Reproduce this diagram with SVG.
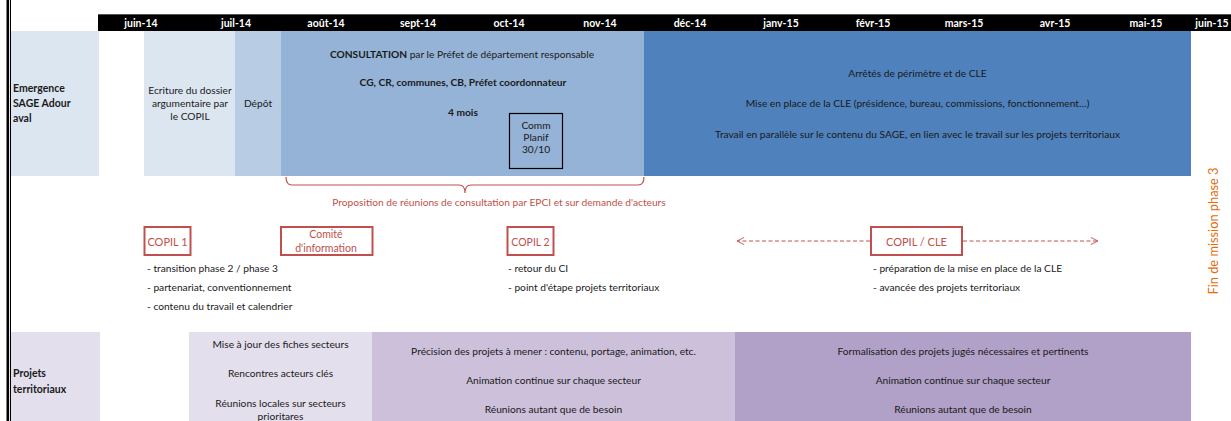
<svg xmlns="http://www.w3.org/2000/svg" width="1231" height="421" viewBox="0 0 1231 421">
<style>
text{font-family:Lato,"Liberation Sans",sans-serif;fill:#1a1a1a}
.m{font-size:10.5px;font-weight:bold;fill:#fff;text-anchor:middle}
.t{font-size:10.2px;text-anchor:middle}
.b{font-weight:bold}
.lbl{font-size:10.5px;font-weight:bold}
.bul{font-size:10.2px}
.red{fill:#c0504d}
.box{fill:#fff;stroke:#c0504d;stroke-width:2}
.con{stroke:#c0504d;fill:none}
</style>
<defs>
<marker id="chev" viewBox="0 0 10 10" refX="9" refY="5" markerWidth="9" markerHeight="9" orient="auto-start-reverse" markerUnits="userSpaceOnUse">
<path d="M1,1 L9,5 L1,9" fill="none" stroke="#c0504d" stroke-width="1"/>
</marker>
</defs>
<rect width="1231" height="421" fill="#fff"/>
<!-- left border -->
<rect x="6.5" y="0" width="2.6" height="421" fill="#000"/>
<rect x="10" y="0" width="1" height="421" fill="#000"/>
<!-- header -->
<g id="header">
<rect x="98" y="14" width="1133" height="17" fill="#000"/>
<line x1="98" y1="14.5" x2="1231" y2="14.5" stroke="#555" stroke-width="1"/>
<g stroke="#000" stroke-width="1">
<line x1="189.1" y1="31" x2="189.1" y2="33"/><line x1="280.2" y1="31" x2="280.2" y2="33"/><line x1="371.3" y1="31" x2="371.3" y2="33"/><line x1="462.4" y1="31" x2="462.4" y2="33"/><line x1="553.5" y1="31" x2="553.5" y2="33"/><line x1="735.7" y1="31" x2="735.7" y2="33"/><line x1="826.8" y1="31" x2="826.8" y2="33"/><line x1="917.9" y1="31" x2="917.9" y2="33"/><line x1="1009" y1="31" x2="1009" y2="33"/><line x1="1100.1" y1="31" x2="1100.1" y2="33"/>
</g>
<text class="m" x="141" y="26.5">juin-14</text>
<text class="m" x="236" y="26.5">juil-14</text>
<text class="m" x="326" y="26.5">août-14</text>
<text class="m" x="418" y="26.5">sept-14</text>
<text class="m" x="509" y="26.5">oct-14</text>
<text class="m" x="600" y="26.5">nov-14</text>
<text class="m" x="690" y="26.5">déc-14</text>
<text class="m" x="781" y="26.5">janv-15</text>
<text class="m" x="873" y="26.5">févr-15</text>
<text class="m" x="964" y="26.5">mars-15</text>
<text class="m" x="1055" y="26.5">avr-15</text>
<text class="m" x="1146" y="26.5">mai-15</text>
<text class="m" x="1212" y="26.5">juin-15</text>
</g>
<!-- row 1 -->
<g id="emergence-label">
<rect x="11" y="31" width="88" height="145" fill="#dce6f1"/>
<text class="lbl" x="13" y="92">Emergence</text>
<text class="lbl" x="13" y="107">SAGE Adour</text>
<text class="lbl" x="13" y="122">aval</text>
</g>
<g id="ecriture">
<rect x="144" y="31" width="91" height="145" fill="#dce6f1"/>
<text class="t" x="190" y="94">Ecriture du dossier</text>
<text class="t" x="190" y="107">argumentaire par</text>
<text class="t" x="190" y="120">le COPIL</text>
</g>
<g id="depot">
<rect x="235" y="31" width="46" height="145" fill="#b8cce4"/>
<text class="t" x="258" y="107">Dépôt</text>
</g>
<g id="consultation">
<rect x="281" y="31" width="363" height="145" fill="#95b3d7"/>
<text class="t" x="462" y="57.5"><tspan class="b">CONSULTATION</tspan> par le Préfet de département responsable</text>
<text class="t b" x="463" y="85.5">CG, CR, communes, CB, Préfet coordonnateur</text>
<text class="t b" x="463" y="115.5">4 mois</text>
</g>
<g id="comm-planif">
<rect x="509.5" y="113.5" width="53" height="55" fill="none" stroke="#000" stroke-width="1.2"/>
<text class="t" x="536" y="128.5">Comm</text>
<text class="t" x="536" y="140.5">Planif</text>
<text class="t" x="536" y="152.5">30/10</text>
</g>
<g id="cle">
<rect x="644" y="31" width="547" height="145" fill="#4f81bd"/>
<text class="t" x="917.5" y="76.5">Arrêtés de périmètre et de CLE</text>
<text class="t" x="917.5" y="106.5">Mise en place de la CLE (présidence, bureau, commissions, fonctionnement…)</text>
<text class="t" x="917.5" y="137.5">Travail en parallèle sur le contenu du SAGE, en lien avec le travail sur les projets territoriaux</text>
</g>
<!-- row 2 -->
<g id="proposition">
<text class="t red" x="499" y="205.5">Proposition de réunions de consultation par EPCI et sur demande d'acteurs</text>
</g>
<g id="copil1">
<rect class="box" x="144.5" y="227" width="46" height="28"/>
<text class="red" x="167.5" y="245.5" font-size="11" text-anchor="middle">COPIL 1</text>
<text class="bul" x="147" y="271.5">- transition phase 2 / phase 3</text>
<text class="bul" x="147" y="290.5">- partenariat, conventionnement</text>
<text class="bul" x="147" y="309.5">- contenu du travail et calendrier</text>
</g>
<g id="comite">
<rect class="box" x="281" y="227" width="91.5" height="28"/>
<text class="red" x="326" y="238" font-size="10.5" text-anchor="middle">Comité</text>
<text class="red" x="326" y="251.5" font-size="10.5" text-anchor="middle">d'information</text>
</g>
<g id="copil2">
<rect class="box" x="507.5" y="227" width="46" height="28"/>
<text class="red" x="530.5" y="245.5" font-size="10.5" text-anchor="middle">COPIL 2</text>
<text class="bul" x="508" y="271.5">- retour du CI</text>
<text class="bul" x="508" y="290.5">- point d'étape projets territoriaux</text>
</g>
<g id="copil-cle">
<rect class="box" x="871" y="227" width="91" height="28"/>
<text class="red" x="916.5" y="245.5" font-size="11" text-anchor="middle">COPIL / CLE</text>
<text class="bul" x="873" y="271.5">- préparation de la mise en place de la CLE</text>
<text class="bul" x="873" y="290.5">- avancée des projets territoriaux</text>
</g>
<g id="fin-mission">
<text x="1218" y="231" font-size="12.8" style="fill:#e46c0a" text-anchor="middle" transform="rotate(-90 1218 231)">Fin de mission phase 3</text>
</g>
<!-- row 3 -->
<g id="projets-label">
<rect x="11" y="332" width="89" height="89" fill="#e4dfec"/>
<text class="lbl" x="13" y="377">Projets</text>
<text class="lbl" x="13" y="393">territoriaux</text>
</g>
<g id="mise-a-jour">
<rect x="189" y="332" width="183" height="89" fill="#e4dfec"/>
<text class="t" x="280.5" y="347.5">Mise à jour des fiches secteurs</text>
<text class="t" x="280.5" y="376.5">Rencontres acteurs clés</text>
<text class="t" x="280.5" y="406.5">Réunions locales sur secteurs</text>
<text class="t" x="280.5" y="420">prioritares</text>
</g>
<g id="precision">
<rect x="372" y="332" width="363" height="89" fill="#ccc0da"/>
<text class="t" x="553.5" y="354.5">Précision des projets à mener : contenu, portage, animation, etc.</text>
<text class="t" x="553.5" y="383.5">Animation continue sur chaque secteur</text>
<text class="t" x="553.5" y="412.5">Réunions autant que de besoin</text>
</g>
<g id="formalisation">
<rect x="735" y="332" width="456" height="89" fill="#b1a0c7"/>
<text class="t" x="963" y="354.5">Formalisation des projets jugés nécessaires et pertinents</text>
<text class="t" x="963" y="383.5">Animation continue sur chaque secteur</text>
<text class="t" x="963" y="412.5">Réunions autant que de besoin</text>
</g>
<!-- connectors -->
<g id="connectors">
<path class="con" stroke-width="1.2" d="M286,177 Q286,185 292,185 L459,185 Q465,185 465,193 Q465,185 471,185 L638,185 Q644,185 644,177"/>
<line class="con" x1="870" y1="241" x2="737" y2="241" stroke-width="1" stroke-dasharray="4 2.5" marker-end="url(#chev)"/>
<line class="con" x1="963" y1="241" x2="1098" y2="241" stroke-width="1" stroke-dasharray="4 2.5" marker-end="url(#chev)"/>
</g>
</svg>
